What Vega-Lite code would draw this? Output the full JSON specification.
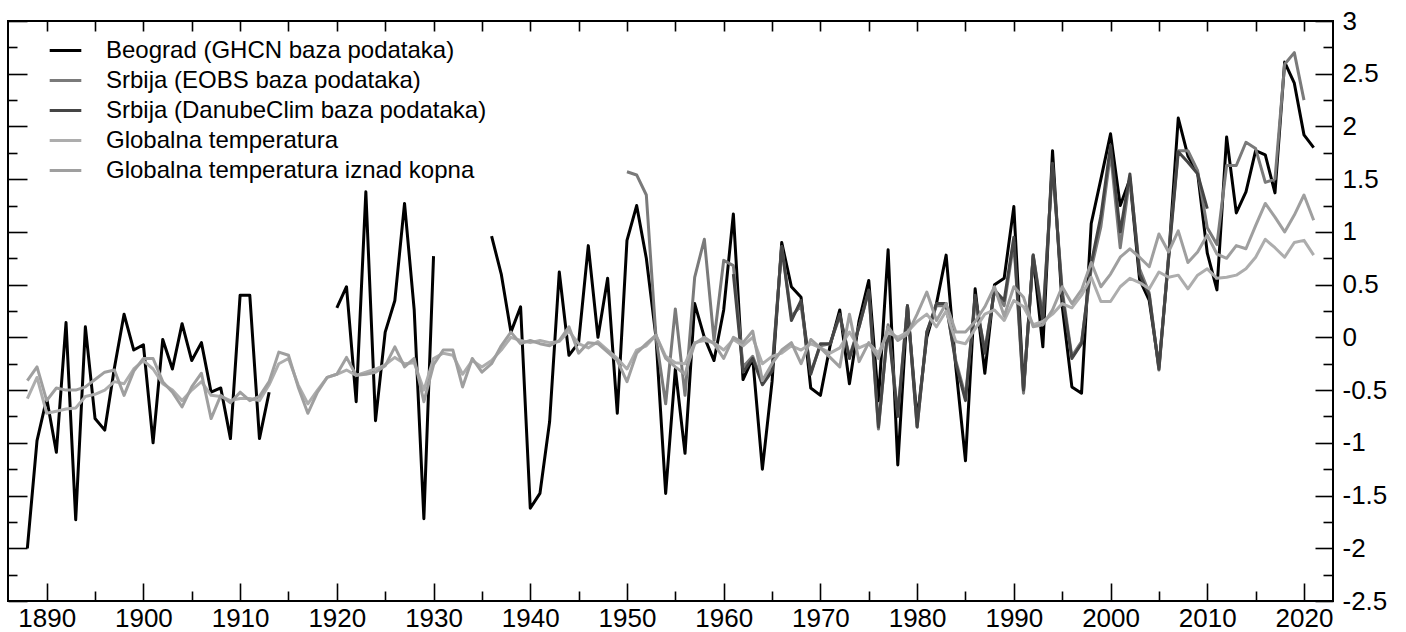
{
  "$schema": "https://vega.github.io/schema/vega-lite/v6.json",
  "width": 1325,
  "height": 580,
  "autosize": {"type": "none"},
  "padding": {"left": 8, "top": 21, "right": 73, "bottom": 31},
  "background": "white",
  "config": {
    "view": {"stroke": "#000000", "strokeWidth": 2},
    "font": "Liberation Sans",
    "axis": {"domain": false, "grid": false, "tickColor": "#000000", "tickWidth": 1.6, "labelFont": "Liberation Sans", "labelFontSize": 26, "labelColor": "#000000"}
  },
  "data": {"values": [
    {"year":1888,"B":-2.0,"G":-0.58,"L":-0.41},
    {"year":1889,"B":-0.98,"G":-0.38,"L":-0.28},
    {"year":1890,"B":-0.58,"G":-0.72,"L":-0.6},
    {"year":1891,"B":-1.09,"G":-0.7,"L":-0.48},
    {"year":1892,"B":0.14,"G":-0.68,"L":-0.5},
    {"year":1893,"B":-1.73,"G":-0.67,"L":-0.5},
    {"year":1894,"B":0.1,"G":-0.56,"L":-0.47},
    {"year":1895,"B":-0.77,"G":-0.54,"L":-0.4},
    {"year":1896,"B":-0.88,"G":-0.5,"L":-0.33},
    {"year":1897,"B":-0.29,"G":-0.42,"L":-0.31},
    {"year":1898,"B":0.22,"G":-0.44,"L":-0.55},
    {"year":1899,"B":-0.12,"G":-0.3,"L":-0.32},
    {"year":1900,"B":-0.07,"G":-0.22,"L":-0.2},
    {"year":1901,"B":-1.0,"G":-0.3,"L":-0.2},
    {"year":1902,"B":-0.02,"G":-0.44,"L":-0.42},
    {"year":1903,"B":-0.3,"G":-0.5,"L":-0.52},
    {"year":1904,"B":0.13,"G":-0.6,"L":-0.66},
    {"year":1905,"B":-0.22,"G":-0.5,"L":-0.47},
    {"year":1906,"B":-0.05,"G":-0.42,"L":-0.34},
    {"year":1907,"B":-0.52,"G":-0.55,"L":-0.77},
    {"year":1908,"B":-0.48,"G":-0.56,"L":-0.55},
    {"year":1909,"B":-0.96,"G":-0.6,"L":-0.62},
    {"year":1910,"B":0.4,"G":-0.58,"L":-0.52},
    {"year":1911,"B":0.4,"G":-0.58,"L":-0.6},
    {"year":1912,"B":-0.96,"G":-0.6,"L":-0.56},
    {"year":1913,"B":-0.52,"G":-0.45,"L":-0.42},
    {"year":1914,"G":-0.25,"L":-0.14},
    {"year":1915,"G":-0.2,"L":-0.17},
    {"year":1916,"G":-0.45,"L":-0.47},
    {"year":1917,"G":-0.63,"L":-0.72},
    {"year":1918,"G":-0.5,"L":-0.52},
    {"year":1919,"G":-0.38,"L":-0.38},
    {"year":1920,"B":0.28,"G":-0.35,"L":-0.35},
    {"year":1921,"B":0.48,"G":-0.31,"L":-0.19},
    {"year":1922,"B":-0.61,"G":-0.36,"L":-0.36},
    {"year":1923,"B":1.38,"G":-0.33,"L":-0.35},
    {"year":1924,"B":-0.79,"G":-0.3,"L":-0.33},
    {"year":1925,"B":0.05,"G":-0.26,"L":-0.27},
    {"year":1926,"B":0.35,"G":-0.19,"L":-0.09},
    {"year":1927,"B":1.27,"G":-0.25,"L":-0.28},
    {"year":1928,"B":0.26,"G":-0.24,"L":-0.2},
    {"year":1929,"B":-1.72,"G":-0.5,"L":-0.61},
    {"year":1930,"B":0.77,"G":-0.2,"L":-0.26},
    {"year":1931,"G":-0.15,"L":-0.12},
    {"year":1932,"G":-0.17,"L":-0.12},
    {"year":1933,"G":-0.35,"L":-0.47},
    {"year":1934,"G":-0.22,"L":-0.2},
    {"year":1935,"G":-0.28,"L":-0.33},
    {"year":1936,"B":0.96,"G":-0.22,"L":-0.25},
    {"year":1937,"B":0.6,"G":-0.12,"L":-0.08},
    {"year":1938,"B":0.05,"G":0.0,"L":0.05},
    {"year":1939,"B":0.29,"G":-0.03,"L":-0.06},
    {"year":1940,"B":-1.62,"G":-0.05,"L":-0.03},
    {"year":1941,"B":-1.48,"G":-0.03,"L":-0.06},
    {"year":1942,"B":-0.8,"G":-0.05,"L":-0.08},
    {"year":1943,"B":0.62,"G":-0.04,"L":-0.03},
    {"year":1944,"B":-0.17,"G":0.06,"L":0.1},
    {"year":1945,"B":-0.05,"G":-0.06,"L":-0.15},
    {"year":1946,"B":0.87,"G":-0.1,"L":-0.05},
    {"year":1947,"B":0.0,"G":-0.04,"L":-0.06},
    {"year":1948,"B":0.56,"G":-0.12,"L":-0.14},
    {"year":1949,"B":-0.72,"G":-0.2,"L":-0.22},
    {"year":1950,"B":0.92,"E":1.57,"G":-0.3,"L":-0.42},
    {"year":1951,"B":1.25,"E":1.54,"G":-0.12,"L":-0.15},
    {"year":1952,"B":0.75,"E":1.35,"G":-0.08,"L":-0.06},
    {"year":1953,"B":0.0,"E":0.0,"G":0.02,"L":0.02},
    {"year":1954,"B":-1.48,"E":-0.63,"G":-0.18,"L":-0.2},
    {"year":1955,"B":-0.3,"E":0.27,"G":-0.24,"L":-0.28},
    {"year":1956,"B":-1.1,"E":-0.55,"G":-0.25,"L":-0.35},
    {"year":1957,"B":0.32,"E":0.57,"G":-0.05,"L":-0.06},
    {"year":1958,"B":0.0,"E":0.93,"G":-0.03,"L":0.0},
    {"year":1959,"B":-0.22,"E":-0.03,"G":-0.05,"L":-0.06},
    {"year":1960,"B":0.26,"E":0.73,"G":-0.12,"L":-0.2},
    {"year":1961,"B":1.17,"E":0.68,"D":0.6,"G":-0.02,"L":0.0},
    {"year":1962,"B":-0.4,"E":-0.28,"D":-0.33,"G":-0.08,"L":-0.05},
    {"year":1963,"B":-0.2,"E":-0.18,"D":-0.2,"G":0.0,"L":0.06},
    {"year":1964,"B":-1.25,"E":-0.42,"D":-0.45,"G":-0.25,"L":-0.41},
    {"year":1965,"B":-0.42,"E":-0.3,"D":-0.32,"G":-0.18,"L":-0.25},
    {"year":1966,"B":0.9,"E":0.86,"D":0.86,"G":-0.15,"L":-0.12},
    {"year":1967,"B":0.48,"E":0.2,"D":0.16,"G":-0.08,"L":-0.05},
    {"year":1968,"B":0.38,"E":0.3,"D":0.35,"G":-0.12,"L":-0.25},
    {"year":1969,"B":-0.48,"E":-0.33,"D":-0.35,"G":-0.06,"L":-0.02},
    {"year":1970,"B":-0.55,"E":-0.08,"D":-0.06,"G":-0.1,"L":-0.1},
    {"year":1971,"B":-0.08,"E":-0.06,"D":-0.06,"G":-0.15,"L":-0.19},
    {"year":1972,"B":0.26,"E":0.2,"D":0.22,"G":-0.1,"L":-0.28},
    {"year":1973,"B":-0.44,"E":-0.18,"D":-0.2,"G":0.05,"L":0.22},
    {"year":1974,"B":0.16,"E":0.1,"D":0.1,"G":-0.1,"L":-0.23},
    {"year":1975,"B":0.54,"E":0.44,"D":0.45,"G":-0.06,"L":-0.05},
    {"year":1976,"B":-0.6,"E":-0.87,"D":-0.85,"G":-0.15,"L":-0.2},
    {"year":1977,"B":0.83,"E":0.12,"D":0.1,"G":0.05,"L":0.1},
    {"year":1978,"B":-1.21,"E":-0.72,"D":-0.75,"G":0.0,"L":-0.03},
    {"year":1979,"B":0.3,"E":0.3,"D":0.3,"G":0.05,"L":0.03},
    {"year":1980,"B":-0.78,"E":-0.85,"D":-0.85,"G":0.15,"L":0.22},
    {"year":1981,"B":0.0,"E":0.05,"D":0.05,"G":0.22,"L":0.43},
    {"year":1982,"B":0.32,"E":0.3,"D":0.32,"G":0.1,"L":0.16},
    {"year":1983,"B":0.78,"E":0.3,"D":0.32,"G":0.25,"L":0.32},
    {"year":1984,"B":-0.28,"E":-0.22,"D":-0.25,"G":-0.04,"L":0.05},
    {"year":1985,"B":-1.17,"E":-0.56,"D":-0.6,"G":-0.06,"L":0.05},
    {"year":1986,"B":0.46,"E":0.36,"D":0.4,"G":0.08,"L":0.15},
    {"year":1987,"B":-0.34,"E":-0.12,"D":-0.15,"G":0.22,"L":0.29},
    {"year":1988,"B":0.5,"E":0.44,"D":0.45,"G":0.26,"L":0.48},
    {"year":1989,"B":0.56,"E":0.3,"D":0.35,"G":0.16,"L":0.2},
    {"year":1990,"B":1.24,"E":0.9,"D":0.95,"G":0.35,"L":0.48},
    {"year":1991,"B":-0.5,"E":-0.53,"D":-0.5,"G":0.29,"L":0.38},
    {"year":1992,"B":0.77,"E":0.78,"D":0.78,"G":0.12,"L":0.1},
    {"year":1993,"B":-0.09,"E":0.2,"D":0.15,"G":0.15,"L":0.12},
    {"year":1994,"B":1.77,"E":1.62,"D":1.65,"G":0.22,"L":0.26},
    {"year":1995,"B":0.3,"E":0.45,"D":0.4,"G":0.32,"L":0.48},
    {"year":1996,"B":-0.47,"E":-0.18,"D":-0.2,"G":0.28,"L":0.32},
    {"year":1997,"B":-0.53,"E":-0.04,"D":-0.06,"G":0.4,"L":0.45},
    {"year":1998,"B":1.08,"E":0.65,"D":0.7,"G":0.57,"L":0.71},
    {"year":1999,"B":1.5,"E":1.05,"D":1.15,"G":0.34,"L":0.48},
    {"year":2000,"B":1.93,"E":1.75,"D":1.82,"G":0.34,"L":0.6},
    {"year":2001,"B":1.25,"E":0.85,"D":1.0,"G":0.48,"L":0.76},
    {"year":2002,"B":1.5,"E":1.52,"D":1.55,"G":0.56,"L":0.84},
    {"year":2003,"B":0.55,"E":0.65,"D":0.6,"G":0.52,"L":0.76},
    {"year":2004,"B":0.35,"E":0.42,"D":0.4,"G":0.46,"L":0.67},
    {"year":2005,"B":-0.28,"E":-0.31,"D":-0.3,"G":0.62,"L":0.98},
    {"year":2006,"B":0.75,"E":0.78,"D":0.75,"G":0.57,"L":0.81},
    {"year":2007,"B":2.08,"E":1.77,"D":1.76,"G":0.59,"L":1.01},
    {"year":2008,"B":1.72,"E":1.77,"D":1.66,"G":0.46,"L":0.71},
    {"year":2009,"B":1.56,"E":1.58,"D":1.55,"G":0.59,"L":0.81},
    {"year":2010,"B":0.8,"E":1.04,"D":1.22,"G":0.65,"L":0.97},
    {"year":2011,"B":0.45,"E":0.88,"G":0.56,"L":0.79},
    {"year":2012,"B":1.9,"E":1.63,"G":0.57,"L":0.75},
    {"year":2013,"B":1.18,"E":1.63,"G":0.59,"L":0.87},
    {"year":2014,"B":1.38,"E":1.85,"G":0.65,"L":0.84},
    {"year":2015,"B":1.77,"E":1.79,"G":0.76,"L":1.06},
    {"year":2016,"B":1.73,"E":1.47,"G":0.93,"L":1.27},
    {"year":2017,"B":1.37,"E":1.5,"G":0.85,"L":1.14},
    {"year":2018,"B":2.61,"E":2.59,"G":0.76,"L":1.0},
    {"year":2019,"B":2.41,"E":2.7,"G":0.9,"L":1.16},
    {"year":2020,"B":1.92,"E":2.25,"G":0.92,"L":1.35},
    {"year":2021,"B":1.8,"G":0.78,"L":1.11}
  ]},
  "transform": [{"fold": ["B", "E", "D", "G", "L"], "as": ["series", "value"]}],
  "layer": [
    {
      "mark": {"type": "line", "strokeWidth": 3, "invalid": "break-paths-show-domains", "strokeJoin": "round"},
      "encoding": {
        "x": {"field": "year", "type": "quantitative", "title": null,
          "scale": {"domain": [1886, 2023], "nice": false, "zero": false},
          "axis": {"orient": "bottom",
            "values": [1890,1895,1900,1905,1910,1915,1920,1925,1930,1935,1940,1945,1950,1955,1960,1965,1970,1975,1980,1985,1990,1995,2000,2005,2010,2015,2020],
            "tickSize": {"condition": {"test": "datum.value % 10 == 0", "value": -18}, "value": -10},
            "labelExpr": "datum.value % 10 == 0 ? '' + datum.value : ''",
            "labelFontSize": 26,
            "labelPadding": 22, "labelFlush": false, "labelOverlap": false}},
        "y": {"field": "value", "type": "quantitative", "title": null,
          "scale": {"domain": [-2.5, 3], "nice": false, "zero": false},
          "axis": {"orient": "right",
            "values": [-2.5,-2.25,-2,-1.75,-1.5,-1.25,-1,-0.75,-0.5,-0.25,0,0.25,0.5,0.75,1,1.25,1.5,1.75,2,2.25,2.5,2.75,3],
            "tickSize": {"condition": {"test": "abs(datum.value*2 - round(datum.value*2)) < 0.01", "value": -18}, "value": -10},
            "labelExpr": "abs(datum.value*2 - round(datum.value*2)) < 0.01 ? '' + datum.value : ''",
            "labelFontSize": 26,
            "labelPadding": 27, "labelFlush": false, "labelOverlap": false}},
        "color": {"field": "series", "type": "nominal",
          "scale": {"domain": ["B", "E", "D", "G", "L"], "range": ["#000000", "#7a7a7a", "#454545", "#adadad", "#9f9f9f"]},
          "legend": {"orient": "none", "legendX": 40, "legendY": 12, "title": null,
            "symbolType": "stroke", "symbolSize": 1000, "symbolStrokeWidth": 3,
            "labelFont": "Liberation Sans", "labelFontSize": 24, "labelColor": "#000000",
            "labelOffset": 23, "rowPadding": 0, "padding": 0, "labelLimit": 600,
            "labelExpr": "datum.label == 'B' ? 'Beograd (GHCN baza podataka)' : datum.label == 'E' ? 'Srbija (EOBS baza podataka)' : datum.label == 'D' ? 'Srbija (DanubeClim baza podataka)' : datum.label == 'G' ? 'Globalna temperatura' : 'Globalna temperatura iznad kopna'"}}
      }
    },
    {
      "mark": {"type": "point", "opacity": 0, "size": 1},
      "encoding": {
        "x": {"field": "year", "type": "quantitative", "title": null,
          "axis": {"orient": "top",
            "values": [1890,1895,1900,1905,1910,1915,1920,1925,1930,1935,1940,1945,1950,1955,1960,1965,1970,1975,1980,1985,1990,1995,2000,2005,2010,2015,2020],
            "tickSize": -10, "labels": false}},
        "y": {"field": "value", "type": "quantitative", "title": null,
          "axis": {"orient": "left",
            "values": [-2.5,-2.25,-2,-1.75,-1.5,-1.25,-1,-0.75,-0.5,-0.25,0,0.25,0.5,0.75,1,1.25,1.5,1.75,2,2.25,2.5,2.75,3],
            "tickSize": {"condition": {"test": "abs(datum.value*2 - round(datum.value*2)) < 0.01", "value": -19}, "value": -9},
            "labels": false}}
      }
    }
  ],
  "resolve": {"axis": {"x": "independent", "y": "independent"}}
}
